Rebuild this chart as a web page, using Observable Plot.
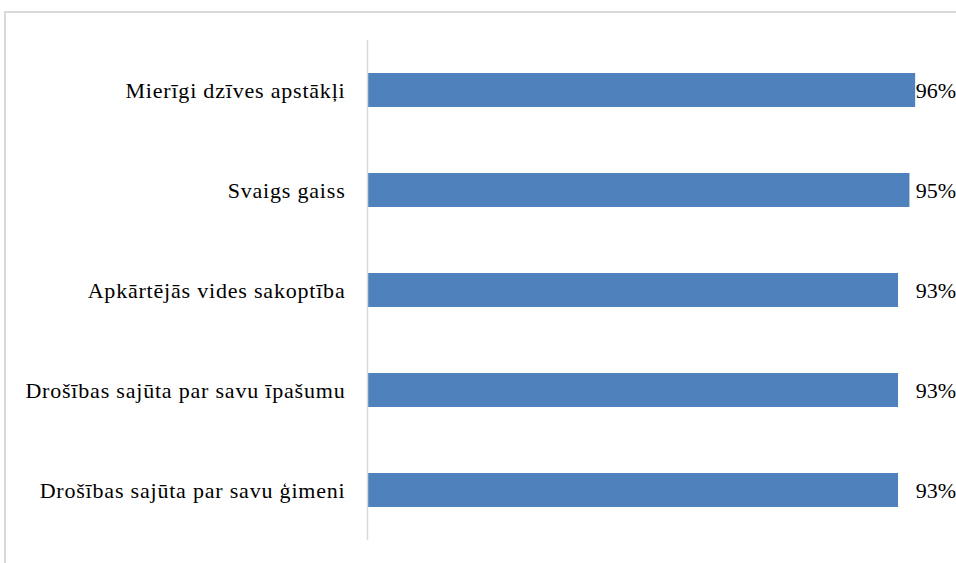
<!DOCTYPE html>
<html>
<head>
<meta charset="utf-8">
<script src="https://cdn.jsdelivr.net/npm/d3@7"></script>
<script src="https://cdn.jsdelivr.net/npm/@observablehq/plot@0.6"></script>
<style>
  html, body { margin: 0; padding: 0; overflow: hidden; background: #fff; }
  #wrap { position: relative; width: 956px; height: 563px; overflow: hidden; }
  #border { position: absolute; left: 4px; top: 11px; width: 1200px; height: 800px;
            border-left: 2px solid #d9d9d9; border-top: 2px solid #d9d9d9; box-sizing: border-box; }
  #chart { position: absolute; left: 0; top: 0; }
  #chart svg, #chart svg text { font-family: "Liberation Serif", "Times New Roman", serif !important; letter-spacing: 0.8px; }
  #chart svg g.vals text { letter-spacing: 0; }
</style>
</head>
<body>
<div id="wrap"><div id="border"></div><div id="chart"></div></div>
<script>
const categories = [
  "Mierīgi dzīves apstākļi",
  "Svaigs gaiss",
  "Apkārtējās vides sakoptība",
  "Drošības sajūta par savu īpašumu",
  "Drošības sajūta par savu ģimeni"
];
const values = [96, 95, 93, 93, 93];
const labels = ["96%", "95%", "93%", "93%", "93%"];

const data = categories.map((c, i) => ({cat: c, v: values[i], label: labels[i]}));
const maxV = d3.max(values);

const chart = Plot.plot({
  width: 956,
  height: 563,
  marginLeft: 367,
  marginRight: 18,
  marginTop: 40,
  marginBottom: 23,
  style: {fontFamily: "Liberation Serif", fontSize: "22px", color: "#000", background: "transparent", overflow: "visible"},
  x: {domain: [0, 100], axis: null},
  y: {domain: categories, paddingInner: 0.66, paddingOuter: 0.33, label: null, tickSize: 0, tickPadding: 22},
  marks: [
    Plot.barX(data, {x: "v", y: "cat", fill: "#4f81bd"}),
    Plot.ruleX([0], {stroke: "#d9d9d9", strokeWidth: 1.5}),
    Plot.text(data, {x: () => maxV, y: "cat", text: "label", textAnchor: "start", dx: 0, fontSize: 22, fill: "#000", className: "vals"})
  ]
});
document.getElementById("chart").appendChild(chart);
</script>
</body>
</html>
